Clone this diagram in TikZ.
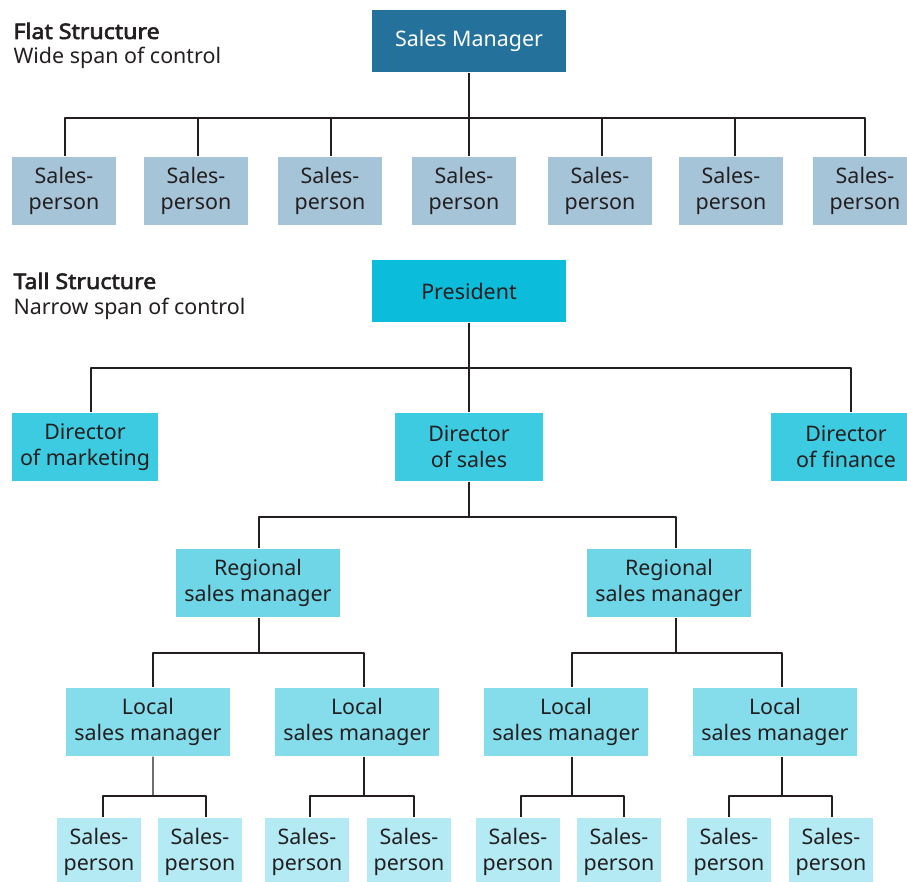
\documentclass[tikz,border=0pt]{standalone}
\usepackage{fontspec}
\setmainfont{Noto Sans}
\newfontfamily\headbold{Noto Sans}[FakeBold=2.8,FakeStretch=1.08]
\definecolor{mgrblue}{HTML}{24729B}
\definecolor{flatblue}{HTML}{A6C4D8}
\definecolor{prescyan}{HTML}{0BBCDB}
\definecolor{dircyan}{HTML}{3CCBE0}
\definecolor{regcyan}{HTML}{6ED6E6}
\definecolor{loccyan}{HTML}{85DDEC}
\definecolor{spcyan}{HTML}{B3EAF3}
\definecolor{inkgray}{HTML}{231F20}
\begin{document}
\begin{tikzpicture}[line join=bevel,line width=1.1bp,
  orgbox/.style={draw=none,align=center,inner sep=0pt,text=inkgray,font=\fontsize{21.5}{26}\selectfont},
  headtxt/.style={anchor=base west,inner sep=0pt,text=inkgray,font=\fontsize{21.5}{26}\selectfont},
  wire/.style={draw=inkgray},
  mgrbox/.style={orgbox,fill=mgrblue,text=white,minimum width=194bp,minimum height=62bp},
  flatbox/.style={orgbox,fill=flatblue,minimum width=104bp,minimum height=68bp},
  presbox/.style={orgbox,fill=prescyan,minimum width=194bp,minimum height=62bp},
  dirbox/.style={orgbox,fill=dircyan,minimum height=68bp},
  regbox/.style={orgbox,fill=regcyan,minimum width=164bp,minimum height=68bp},
  locbox/.style={orgbox,fill=loccyan,minimum width=164bp,minimum height=68bp},
  spbox/.style={orgbox,fill=spcyan,minimum width=84bp,minimum height=68bp}]
\useasboundingbox (0bp,0bp) rectangle (907bp,882bp);
%%
\node (flat_head) at (13bp,843bp) [headtxt] {\headbold Flat Structure};
\node (flat_sub) at (13bp,818bp) [headtxt] {Wide span of control};
\node (tall_head) at (13bp,593bp) [headtxt] {\headbold Tall Structure};
\node (tall_sub) at (13bp,567bp) [headtxt] {Narrow span of control};
%% flat structure
\node (mgr) at (469bp,841bp) [mgrbox] {Sales Manager};
  \node (fs_1) at (64bp,691bp) [flatbox] {Sales-\\person};
  \node (fs_2) at (196bp,691bp) [flatbox] {Sales-\\person};
  \node (fs_3) at (330bp,691bp) [flatbox] {Sales-\\person};
  \node (fs_4) at (464bp,691bp) [flatbox] {Sales-\\person};
  \node (fs_5) at (600bp,691bp) [flatbox] {Sales-\\person};
  \node (fs_6) at (731bp,691bp) [flatbox] {Sales-\\person};
  \node (fs_7) at (865bp,691bp) [flatbox] {Sales-\\person};
  \coordinate (fbus) at (469bp,764bp);
  \draw [wire] (mgr.south) -- (mgr.south |- fs_4.north);
  \draw [wire] (fbus) -| ([xshift=1bp]fs_1.north);
  \draw [wire] (fbus) -| ([xshift=2bp]fs_2.north);
  \draw [wire] (fbus) -| ([xshift=1bp]fs_3.north);
  \draw [wire] (fbus) -| ([xshift=2bp]fs_5.north);
  \draw [wire] (fbus) -| ([xshift=4bp]fs_6.north);
  \draw [wire] (fbus) -| (fs_7.north);
%% tall structure
\node (pres) at (469bp,591bp) [presbox] {President};
  \node (dir_mkt) at (85bp,435bp) [dirbox,minimum width=146bp] {Director\\of marketing};
  \node (dir_sal) at (469bp,435bp) [dirbox,minimum width=148bp] {Director\\of sales};
  \node (dir_fin) at (846bp,435bp) [dirbox,minimum width=150bp] {Director\\of finance};
  \coordinate (pbus) at (469bp,514bp);
  \draw [wire] (pres) -- (dir_sal);
  \draw [wire] (pbus) -| ([xshift=6bp]dir_mkt.north);
  \draw [wire] (pbus) -| ([xshift=5bp]dir_fin.north);
%
\node (reg_1) at (258bp,299bp) [regbox] {Regional\\sales manager};
  \node (reg_2) at (669bp,299bp) [regbox] {Regional\\sales manager};
  \coordinate (dbus) at (469bp,365bp);
  \draw [wire] (dir_sal) -- (dbus);
  \draw [wire] (dbus) -| ([xshift=1bp]reg_1.north);
  \draw [wire] (dbus) -| ([xshift=7bp]reg_2.north);
%
\node (loc_1) at (148bp,160bp) [locbox] {Local\\sales manager};
  \node (loc_2) at (357bp,160bp) [locbox] {Local\\sales manager};
  \node (loc_3) at (566bp,160bp) [locbox] {Local\\sales manager};
  \node (loc_4) at (775bp,160bp) [locbox] {Local\\sales manager};
  \coordinate (rbus_1) at (259bp,229bp);
  \coordinate (rbus_2) at (676bp,229bp);
  \draw [wire] ([xshift=1bp]reg_1.south) -- (rbus_1);
  \draw [wire] (rbus_1) -| ([xshift=5bp]loc_1.north);
  \draw [wire] (rbus_1) -| ([xshift=7bp]loc_2.north);
  \draw [wire] ([xshift=7bp]reg_2.south) -- (rbus_2);
  \draw [wire] (rbus_2) -| ([xshift=6bp]loc_3.north);
  \draw [wire] (rbus_2) -| ([xshift=7bp]loc_4.north);
%
\node (sp_1) at (99bp,30bp) [spbox] {Sales-\\person};
  \node (sp_2) at (200bp,30bp) [spbox] {Sales-\\person};
  \node (sp_3) at (307bp,30bp) [spbox] {Sales-\\person};
  \node (sp_4) at (409bp,30bp) [spbox] {Sales-\\person};
  \node (sp_5) at (518bp,30bp) [spbox] {Sales-\\person};
  \node (sp_6) at (619bp,30bp) [spbox] {Sales-\\person};
  \node (sp_7) at (729bp,30bp) [spbox] {Sales-\\person};
  \node (sp_8) at (831bp,30bp) [spbox] {Sales-\\person};
  \coordinate (lbus_1) at (153bp,86bp);
  \coordinate (lbus_2) at (364bp,86bp);
  \coordinate (lbus_3) at (572bp,86bp);
  \coordinate (lbus_4) at (782bp,86bp);
  \draw [wire] ([xshift=5bp]loc_1.south) -- (lbus_1);
  \draw [wire] (lbus_1) -| ([xshift=4bp]sp_1.north);
  \draw [wire] (lbus_1) -| ([xshift=6bp]sp_2.north);
  \draw [wire] ([xshift=7bp]loc_2.south) -- (lbus_2);
  \draw [wire] (lbus_2) -| ([xshift=3bp]sp_3.north);
  \draw [wire] (lbus_2) -| ([xshift=5bp]sp_4.north);
  \draw [wire] ([xshift=6bp]loc_3.south) -- (lbus_3);
  \draw [wire] (lbus_3) -| ([xshift=3bp]sp_5.north);
  \draw [wire] (lbus_3) -| ([xshift=5bp]sp_6.north);
  \draw [wire] ([xshift=7bp]loc_4.south) -- (lbus_4);
  \draw [wire] (lbus_4) -| (sp_7.north);
  \draw [wire] (lbus_4) -| ([xshift=1bp]sp_8.north);
%
\end{tikzpicture}
\end{document}
